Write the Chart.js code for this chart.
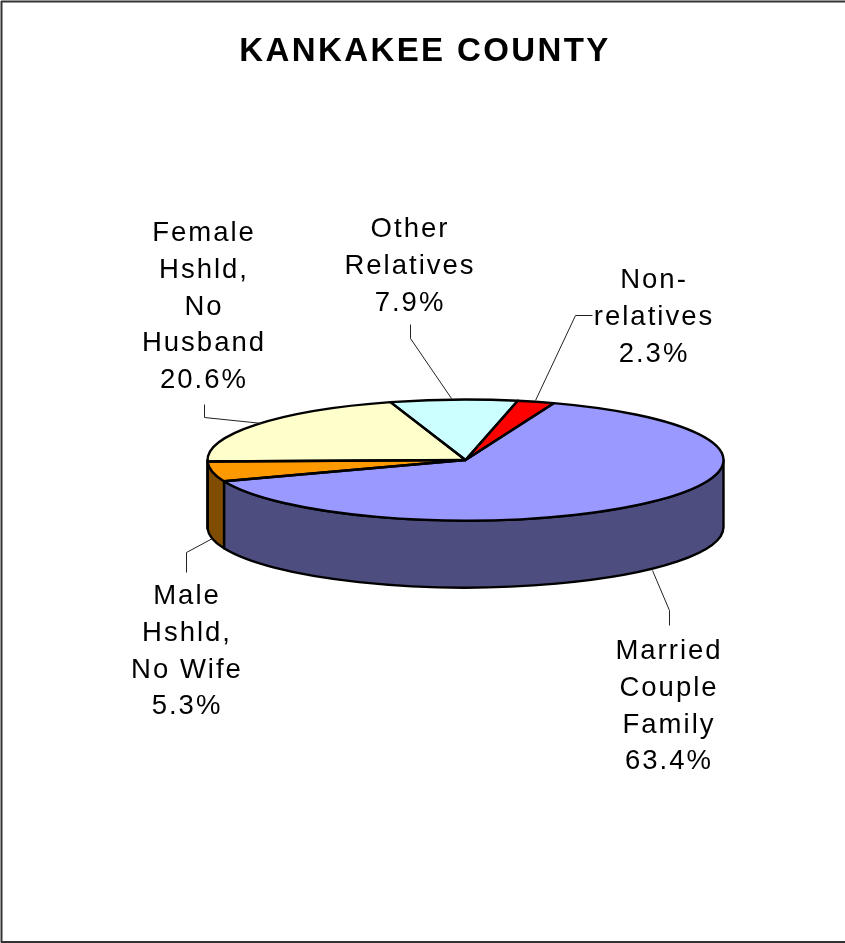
<!DOCTYPE html>
<html><head><meta charset="utf-8">
<style>html,body{margin:0;padding:0;background:#fff}canvas{display:block}</style>
<script src="https://cdn.jsdelivr.net/npm/chart.js@4"></script>
</head><body>
<canvas id="c" width="845" height="943"></canvas>
<script>
const chartTitle = "KANKAKEE COUNTY";
const categories = ["Married Couple Family","Male Hshld, No Wife","Female Hshld, No Husband","Other Relatives","Non-relatives"];
const values = [63.4,5.3,20.6,7.9,2.3];
const topColors = ["#9999FF","#FF9900","#FFFFCC","#CCFFFF","#FF0000"];
const sideColors = ["#4D4D80","#804D00","#808066","#668080","#800000"];
const labelLines = [["Married","Couple","Family"],["Male","Hshld,","No Wife"],["Female","Hshld,","No","Husband"],["Other","Relatives"],["Non-","relatives"]];
const labelCenterX = [669,187,204,410,654];
const labelFirstBaseline = [659,604,241,237,288];
const leaders = [
  [[652,570],[669,610],[669,625]],
  [[212,538],[186,552],[186,572]],
  [[262,423],[204,417],[204,404]],
  [[451,398],[410,338],[410,324]],
  [[535,400],[575,315],[592,315]]
];
const squash = 60.5/258, depth = 67, lineStep = 36.8;

function ellipsePath(ctx, el, a0, a1, ccw, dy){
  ctx.ellipse(el.x, el.y+dy, el.outerRadius, el.outerRadius*squash, 0, a0, a1, ccw);
}
const pie3d = {
  id:'pie3d',
  beforeDatasetsDraw(chart){
    const ctx = chart.ctx, arcs = chart.getDatasetMeta(0).data;
    ctx.save();
    ctx.lineWidth = 2.4; ctx.strokeStyle = '#000'; ctx.lineJoin = 'round';
    arcs.forEach((el,i)=>{
      const p = el.getProps(['x','y','startAngle','endAngle','outerRadius']);
      const a0 = Math.max(p.startAngle,0), a1 = Math.min(p.endAngle,Math.PI);
      if (a1<=a0) return;
      ctx.beginPath();
      ellipsePath(ctx,p,a0,a1,false,0);
      ellipsePath(ctx,p,a1,a0,true,depth);
      ctx.closePath();
      ctx.fillStyle = sideColors[i];
      ctx.fill(); ctx.stroke();
    });
    ctx.restore();
    const a = arcs[0];
    ctx.save();
    ctx.translate(a.x,a.y); ctx.scale(1,squash); ctx.translate(-a.x,-a.y);
  },
  afterDatasetsDraw(chart){
    const ctx = chart.ctx, arcs = chart.getDatasetMeta(0).data;
    ctx.restore();
    ctx.save();
    ctx.lineWidth = 2.4; ctx.strokeStyle = '#000'; ctx.lineJoin = 'round';
    arcs.forEach(el=>{
      const p = el.getProps(['x','y','startAngle','endAngle','outerRadius']);
      ctx.beginPath();
      ctx.moveTo(p.x,p.y);
      ellipsePath(ctx,p,p.startAngle,p.endAngle,false,0);
      ctx.closePath();
      ctx.stroke();
    });
    ctx.lineWidth = 1; ctx.strokeStyle = '#222';
    leaders.forEach(l=>{
      ctx.beginPath();
      l.forEach((pt,i)=> i?ctx.lineTo(pt[0]+.5,pt[1]+.5):ctx.moveTo(pt[0]+.5,pt[1]+.5));
      ctx.stroke();
    });
    ctx.fillStyle = '#000'; ctx.textAlign = 'center'; ctx.textBaseline = 'alphabetic';
    ctx.font = '27.5px "Liberation Sans"'; ctx.letterSpacing = '2px';
    categories.forEach((c,i)=>{
      const lines = labelLines[i].concat(values[i].toFixed(1)+'%');
      lines.forEach((t,j)=> ctx.fillText(t,labelCenterX[i],labelFirstBaseline[i]+j*lineStep));
    });
    ctx.font = 'bold 33px "Liberation Sans"'; ctx.letterSpacing = '2.4px';
    ctx.fillText(chartTitle,425,61);
    ctx.letterSpacing = '0px';
    ctx.lineWidth = 2; ctx.strokeStyle = '#333';
    ctx.beginPath();
    ctx.moveTo(845,1.5); ctx.lineTo(1.5,1.5); ctx.lineTo(1.5,942); ctx.lineTo(845,942);
    ctx.stroke();
    ctx.restore();
  }
};
new Chart(document.getElementById('c'),{
  type:'pie',
  data:{labels:categories,datasets:[{data:values,backgroundColor:topColors,borderWidth:0,clip:false}]},
  options:{
    responsive:false,animation:false,rotation:20,
    layout:{padding:{left:207,right:121,top:202,bottom:225}},
    plugins:{legend:{display:false},tooltip:{enabled:false},title:{display:false}}
  },
  plugins:[pie3d]
});
</script>
</body></html>
